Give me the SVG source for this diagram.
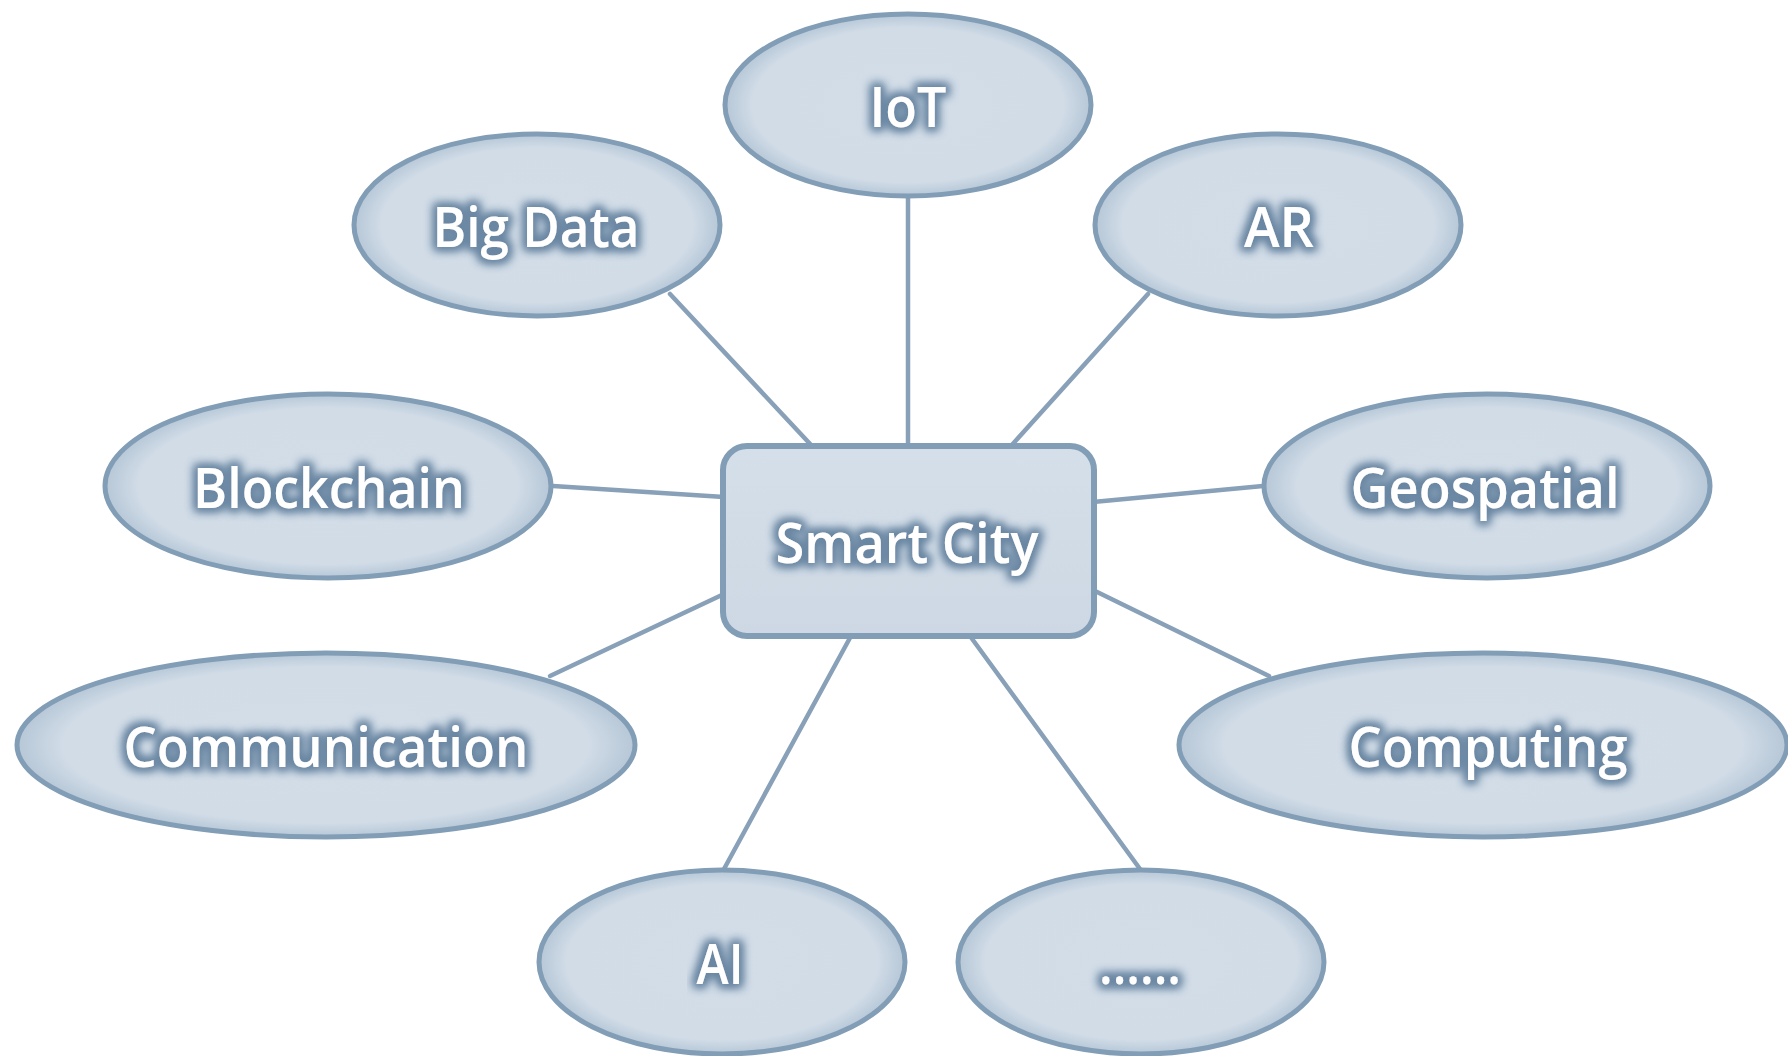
<svg xmlns="http://www.w3.org/2000/svg" width="1788" height="1056" viewBox="0 0 1788 1056">
<defs>
<radialGradient id="fillG" cx="50%" cy="50%" r="50%">
<stop offset="0%" stop-color="#d3dde8"/>
<stop offset="85%" stop-color="#d1dce7"/>
<stop offset="100%" stop-color="#b6c7d7"/>
</radialGradient>
<linearGradient id="rectG" x1="0" y1="0" x2="0" y2="1">
<stop offset="0%" stop-color="#d5dfe9"/>
<stop offset="100%" stop-color="#cdd8e4"/>
</linearGradient>
<filter id="glow" x="-20%" y="-40%" width="140%" height="180%">
<feMorphology in="SourceAlpha" operator="dilate" radius="3" result="d"/>
<feGaussianBlur in="d" stdDeviation="5" result="b"/>
<feFlood flood-color="#6a87a3" flood-opacity="1"/>
<feComposite in2="b" operator="in" result="s"/>
<feMerge><feMergeNode in="s"/><feMergeNode in="s"/><feMergeNode in="SourceGraphic"/></feMerge>
</filter>
</defs>
<style>
.node ellipse{fill:url(#fillG);stroke:#829db6;stroke-width:5}
.node rect{fill:url(#rectG);stroke:#829db6;stroke-width:6}
.lbl{font-family:"Open Sans","Noto Sans","Liberation Sans",sans-serif;font-size:56px;font-weight:600;fill:#ffffff;text-anchor:middle;filter:url(#glow)}
.conn line{stroke:#88a0b8;stroke-width:4.5;stroke-linecap:round}
</style>
<rect width="1788" height="1056" fill="#ffffff"/>
<g id="connectors" class="conn">
<line x1="670" y1="294" x2="812" y2="446"/>
<line x1="908" y1="197" x2="908" y2="446"/>
<line x1="1148" y1="294" x2="1011" y2="446"/>
<line x1="553" y1="486" x2="724" y2="497"/>
<line x1="1263" y1="486" x2="1093" y2="502"/>
<line x1="550" y1="676" x2="724" y2="594"/>
<line x1="1269" y1="676" x2="1093" y2="590"/>
<line x1="724" y1="869" x2="851" y2="636"/>
<line x1="1140" y1="869" x2="970" y2="636"/>
</g>
<g id="node-iot" class="node"><ellipse cx="908" cy="105" rx="183" ry="91"/><text class="lbl" x="908" y="127" textLength="77" lengthAdjust="spacingAndGlyphs">IoT</text></g>
<g id="node-bigdata" class="node"><ellipse cx="537" cy="225" rx="183" ry="91"/><text class="lbl" x="536" y="247" textLength="207" lengthAdjust="spacingAndGlyphs">Big Data</text></g>
<g id="node-ar" class="node"><ellipse cx="1278" cy="225" rx="183" ry="91"/><text class="lbl" x="1279" y="247" textLength="70" lengthAdjust="spacingAndGlyphs">AR</text></g>
<g id="node-blockchain" class="node"><ellipse cx="328" cy="486" rx="223" ry="92"/><text class="lbl" x="329" y="508" textLength="272" lengthAdjust="spacingAndGlyphs">Blockchain</text></g>
<g id="node-geospatial" class="node"><ellipse cx="1487" cy="486" rx="223" ry="92"/><text class="lbl" x="1485" y="508" textLength="269" lengthAdjust="spacingAndGlyphs">Geospatial</text></g>
<g id="node-smartcity" class="node"><rect x="723" y="446" width="371" height="190" rx="24" ry="24"/><text class="lbl" x="907" y="563" textLength="263" lengthAdjust="spacingAndGlyphs">Smart City</text></g>
<g id="node-communication" class="node"><ellipse cx="326" cy="745" rx="309" ry="92"/><text class="lbl" x="326" y="767" textLength="405" lengthAdjust="spacingAndGlyphs">Communication</text></g>
<g id="node-computing" class="node"><ellipse cx="1483" cy="745" rx="304" ry="92"/><text class="lbl" x="1488" y="767" textLength="279" lengthAdjust="spacingAndGlyphs">Computing</text></g>
<g id="node-ai" class="node"><ellipse cx="722" cy="962" rx="183" ry="92"/><text class="lbl" x="720" y="984" textLength="47" lengthAdjust="spacingAndGlyphs">AI</text></g>
<g id="node-more" class="node"><ellipse cx="1141" cy="962" rx="183" ry="92"/><text class="lbl" x="1140" y="984" textLength="82" lengthAdjust="spacingAndGlyphs">......</text></g>
</svg>
